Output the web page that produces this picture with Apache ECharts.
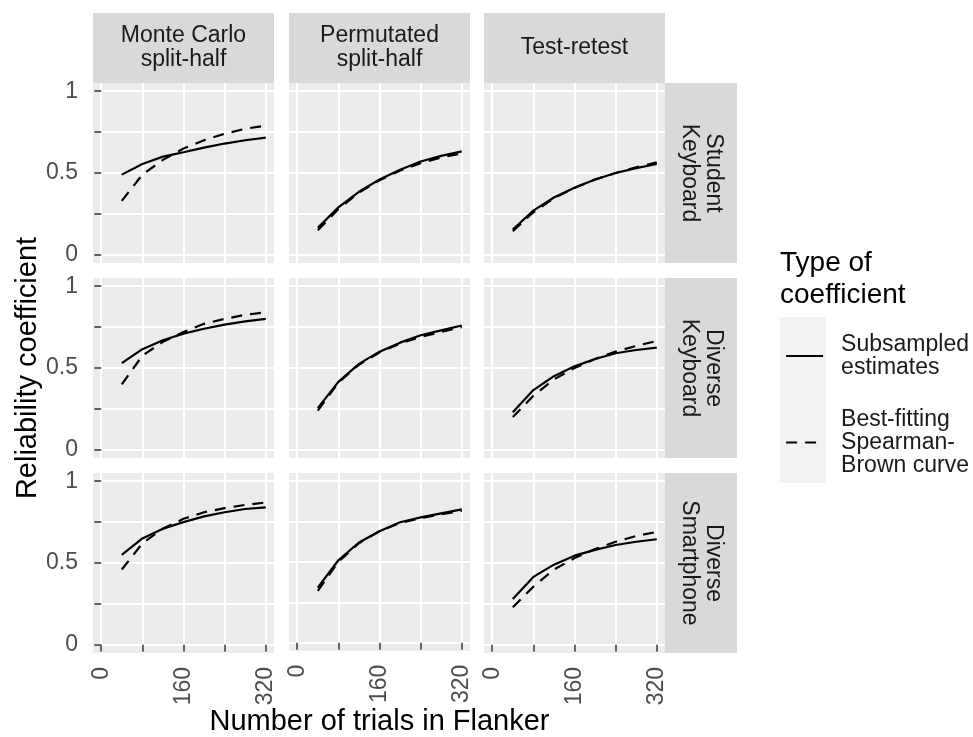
<!DOCTYPE html>
<html><head><meta charset="utf-8">
<script src="https://cdn.jsdelivr.net/npm/echarts@6/dist/echarts.min.js"></script>
<style>html,body{margin:0;padding:0;background:#fff}#c{width:973px;height:737px}</style>
</head><body><div id="c"></div><script>
// ---------- data ----------
const trials = [40, 80, 120, 160, 200, 240, 280, 320];
const methods = ['Monte Carlo\nsplit-half', 'Permutated\nsplit-half', 'Test-retest'];
const samples = ['Student\nKeyboard', 'Diverse\nKeyboard', 'Diverse\nSmartphone'];
const xTicks = [0, 80, 160, 240, 320];
const xLabels = [0, 160, 320];
const yTicks = [0, 0.25, 0.5, 0.75, 1];
const yLabels = [0, 0.5, 1];

// Subsampled estimates (solid)
const subMonteStudent = [0.49, 0.555, 0.60, 0.627, 0.655, 0.68, 0.70, 0.716];
const subPermStudent  = [0.165, 0.29, 0.385, 0.46, 0.52, 0.57, 0.605, 0.632];
const subTestStudent  = [0.155, 0.27, 0.35, 0.41, 0.46, 0.50, 0.53, 0.555];
const subMonteDivKey  = [0.53, 0.615, 0.67, 0.71, 0.74, 0.765, 0.785, 0.80];
const subPermDivKey   = [0.255, 0.415, 0.525, 0.60, 0.655, 0.70, 0.73, 0.76];
const subTestDivKey   = [0.23, 0.365, 0.45, 0.51, 0.555, 0.59, 0.61, 0.625];
const subMonteDivPhone = [0.55, 0.65, 0.71, 0.75, 0.785, 0.81, 0.83, 0.84];
const subPermDivPhone  = [0.34, 0.51, 0.62, 0.69, 0.745, 0.775, 0.80, 0.825];
const subTestDivPhone  = [0.28, 0.415, 0.49, 0.545, 0.58, 0.61, 0.63, 0.645];

// Best-fitting Spearman-Brown curve (dashed)
const sbMonteStudent = [0.33, 0.49, 0.58, 0.65, 0.70, 0.74, 0.77, 0.79];
const sbPermStudent  = [0.15, 0.28, 0.38, 0.455, 0.515, 0.56, 0.595, 0.62];
const sbTestStudent  = [0.145, 0.26, 0.345, 0.41, 0.46, 0.50, 0.535, 0.565];
const sbMonteDivKey  = [0.40, 0.575, 0.66, 0.72, 0.77, 0.80, 0.825, 0.84];
const sbPermDivKey   = [0.24, 0.41, 0.52, 0.595, 0.65, 0.69, 0.72, 0.75];
const sbTestDivKey   = [0.20, 0.33, 0.43, 0.50, 0.555, 0.60, 0.635, 0.665];
const sbMonteDivPhone = [0.46, 0.62, 0.71, 0.77, 0.81, 0.835, 0.855, 0.87];
const sbPermDivPhone  = [0.32, 0.50, 0.615, 0.69, 0.74, 0.77, 0.795, 0.815];
const sbTestDivPhone  = [0.23, 0.355, 0.46, 0.53, 0.585, 0.63, 0.665, 0.69];

const seriesNames = ['Subsampled estimates', 'Best-fitting Spearman-Brown curve'];
const legendLabels = {'Subsampled estimates': 'Subsampled\nestimates', 'Best-fitting Spearman-Brown curve': 'Best-fitting\nSpearman-\nBrown curve'};

const subsampled = [
  [subMonteStudent, subPermStudent, subTestStudent],
  [subMonteDivKey, subPermDivKey, subTestDivKey],
  [subMonteDivPhone, subPermDivPhone, subTestDivPhone]
];
const spearman = [
  [sbMonteStudent, sbPermStudent, sbTestStudent],
  [sbMonteDivKey, sbPermDivKey, sbTestDivKey],
  [sbMonteDivPhone, sbPermDivPhone, sbTestDivPhone]
];

// ---------- layout ----------
const FONT = '"Liberation Sans", Arial, sans-serif';
const colLeft = [93, 289, 484];
const rowTop = [83, 278, 473];
const PW = 181, PH = 180;
const DASH = [11, 8];

const grids = [], xAxes = [], yAxes = [], series = [], graphics = [];
let idx = 0;
for (let r = 0; r < 3; r++) {
  for (let c = 0; c < 3; c++) {
    grids.push({left: colLeft[c], top: rowTop[r], width: PW, height: PH, show: true,
      backgroundColor: '#ebebeb', borderWidth: 0, containLabel: false});
    const xa = {
      gridIndex: idx, type: 'value', min: -16, max: 336,
      axisLine: {show: false},
      axisTick: {show: r === 2, customValues: xTicks, length: 7, lineStyle: {color: '#333333', width: 1.5}},
      axisLabel: {show: r === 2, customValues: xLabels, rotate: 90, margin: 14, color: '#4d4d4d', fontSize: 23, fontFamily: FONT},
      splitLine: {show: true, lineStyle: {color: '#ffffff', width: 2}}
    };
    if (r === 2 && c === 1) {
      Object.assign(xa, {name: 'Number of trials in Flanker', nameLocation: 'middle', nameGap: 46,
        nameTextStyle: {fontSize: 29, color: '#000', fontFamily: FONT, verticalAlign: 'top'}});
    }
    xAxes.push(xa);
    const ya = {
      gridIndex: idx, type: 'value', min: -0.05, max: 1.05,
      axisLine: {show: false},
      axisTick: {show: c === 0, customValues: yTicks, length: 7, lineStyle: {color: '#333333', width: 1.5}},
      axisLabel: {show: c === 0, customValues: yLabels, margin: 15, color: '#4d4d4d', fontSize: 23, fontFamily: FONT},
      splitLine: {show: true, lineStyle: {color: '#ffffff', width: 2}}
    };
    if (r === 1 && c === 0) {
      Object.assign(ya, {name: 'Reliability coefficient', nameLocation: 'middle', nameGap: 50,
        nameTextStyle: {fontSize: 29, color: '#000', fontFamily: FONT}});
    }
    yAxes.push(ya);
    series.push({
      name: seriesNames[0], type: 'line', xAxisIndex: idx, yAxisIndex: idx,
      data: trials.map((t, i) => [t, subsampled[r][c][i]]),
      symbol: 'none', color: '#000', lineStyle: {color: '#000', width: 2.2, type: 'solid'}, z: 3
    });
    series.push({
      name: seriesNames[1], type: 'line', xAxisIndex: idx, yAxisIndex: idx,
      data: trials.map((t, i) => [t, spearman[r][c][i]]),
      symbol: 'none', color: '#000', lineStyle: {color: '#000', width: 2.2, type: DASH}, z: 3
    });
    idx++;
  }
}

// strips (top)
for (let c = 0; c < 3; c++) {
  graphics.push({type: 'rect', shape: {x: colLeft[c], y: 13, width: PW, height: 70}, style: {fill: '#d9d9d9'}, z: -1, silent: true});
  graphics.push({type: 'text', x: colLeft[c] + PW / 2, y: 48, z: 1, silent: true,
    style: {text: methods[c], align: 'center', verticalAlign: 'middle', fontSize: 23, lineHeight: 24, fontFamily: FONT, fill: '#1a1a1a'}});
}
// strips (right)
for (let r = 0; r < 3; r++) {
  graphics.push({type: 'rect', shape: {x: 665, y: rowTop[r], width: 72, height: PH}, style: {fill: '#d9d9d9'}, z: -1, silent: true});
  graphics.push({type: 'text', x: 701, y: rowTop[r] + PH / 2, rotation: -Math.PI / 2, z: 1, silent: true,
    style: {text: samples[r], align: 'center', verticalAlign: 'middle', fontSize: 23, lineHeight: 24, fontFamily: FONT, fill: '#1a1a1a'}});
}
// legend title and key background
graphics.push({type: 'text', x: 780, y: 247, silent: true,
  style: {text: 'Type of\ncoefficient', align: 'left', verticalAlign: 'top', fontSize: 28, lineHeight: 32, fontFamily: FONT, fill: '#000'}});
graphics.push({type: 'rect', shape: {x: 780, y: 317, width: 46, height: 166}, style: {fill: '#f2f2f2'}, z: -1, silent: true});

const chart = echarts.init(document.getElementById('c'));
chart.setOption({
  animation: false,
  backgroundColor: '#ffffff',
  grid: grids,
  xAxis: xAxes,
  yAxis: yAxes,
  series: series,
  legend: {
    data: seriesNames, orient: 'vertical', left: 785, top: 333, padding: 0,
    itemWidth: 37, itemHeight: 14, itemGap: 29,
    itemStyle: {opacity: 0},
    lineStyle: {width: 2.2},
    formatter: n => legendLabels[n],
    textStyle: {fontSize: 23, lineHeight: 23, color: '#1a1a1a', fontFamily: FONT, padding: [0, 0, 0, 13]},
    selectedMode: false
  },
  graphic: graphics
});
</script></body></html>
